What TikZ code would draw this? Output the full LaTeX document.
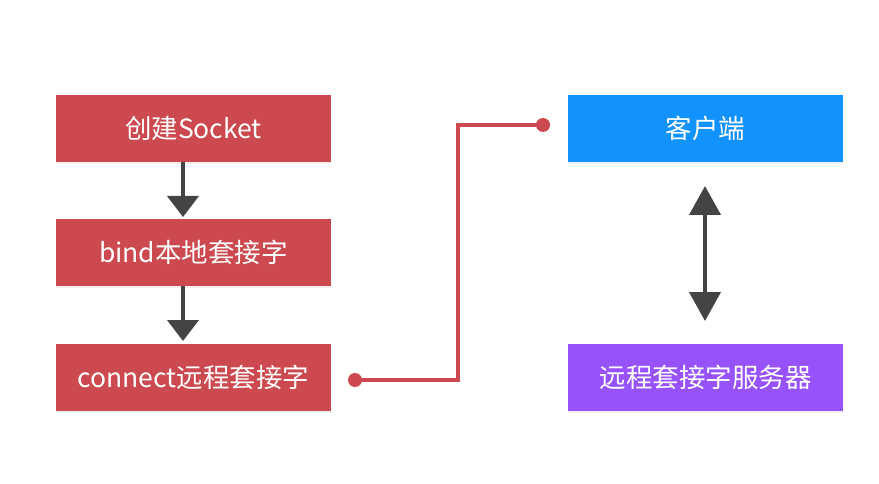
\documentclass[tikz,border=0pt]{standalone}
\usepackage{fontspec}
\setmainfont{Noto Sans CJK SC}
\usetikzlibrary{arrows.meta,shadows}
\definecolor{boxred}{RGB}{204,74,79}
\definecolor{boxblue}{RGB}{18,146,252}
\definecolor{boxpurple}{RGB}{151,82,252}
\definecolor{arrgray}{RGB}{68,68,68}
\tikzset{
  flowbox/.style={minimum width=275pt, minimum height=67pt, inner sep=0pt, text=white,
    font=\fontsize{26.5}{30}\selectfont, drop shadow={opacity=0.12, shadow xshift=0pt, shadow yshift=-2pt}},
  darrow/.style={draw=arrgray, line width=4pt, -{Triangle[width=31pt,length=21pt]}},
  biarrow/.style={draw=arrgray, line width=4pt, {Triangle[width=31pt,length=29pt]}-{Triangle[width=31pt,length=29pt]}},
  redline/.style={draw=boxred, line width=3.2pt},
  dot/.style={circle, fill=boxred, minimum size=14pt, inner sep=0pt}
}
\begin{document}
\begin{tikzpicture}[x=1pt,y=-1pt]
\useasboundingbox[fill=white] (0,0) rectangle (879,484);
\node[flowbox, fill=boxred] (a) at (193.5,128.5) {创建Socket};
\node[flowbox, fill=boxred] (b) at (193.5,252.5) {bind本地套接字};
\node[flowbox, fill=boxred] (c) at (193.5,377) {connect远程套接字};
\node[flowbox, fill=boxblue] (d) at (705.5,128.5) {客户端};
\node[flowbox, fill=boxpurple] (e) at (705.5,377) {远程套接字服务器};
\coordinate (a1) at (183,162);
\coordinate (b0) at (183,217);
\coordinate (b1) at (183,286);
\coordinate (c0) at (183,341);
\draw[darrow] (a1) -- (b0);
\draw[darrow] (b1) -- (c0);
\coordinate (d1) at (705,186);
\coordinate (e0) at (705,321);
\draw[biarrow] (d1) -- (e0);
\node[dot] (p) at (355,380) {};
\node[dot] (q) at (543,125) {};
\coordinate (corner) at (458,125);
\draw[redline] (p.center) -| (corner) -- (q.center);
\end{tikzpicture}
\end{document}
